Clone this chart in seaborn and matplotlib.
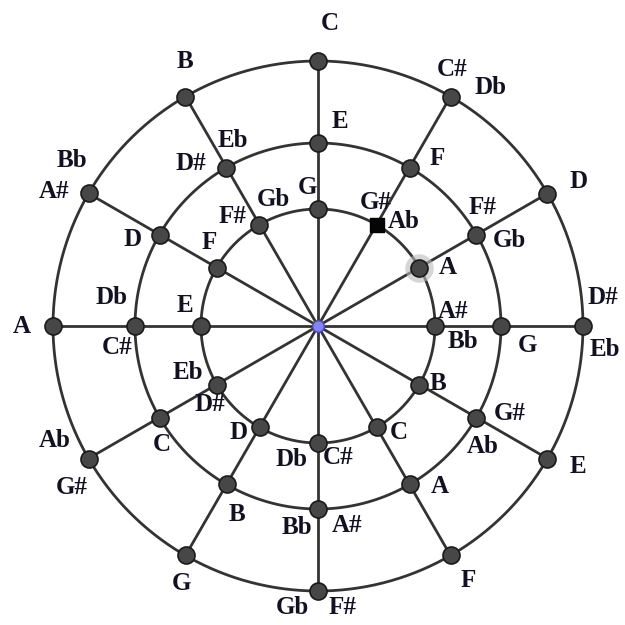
import numpy as np
import pandas as pd
import matplotlib
matplotlib.use("Agg")
import matplotlib.pyplot as plt
import seaborn as sns

# notes on each ring, clockwise from the top (12 positions, 30 degrees apart)
outer_notes = ["C", "C#/Db", "D", "D#/Eb", "E", "F", "F#/Gb", "G", "G#/Ab", "A", "A#/Bb", "B"]
middle_notes = ["E", "F", "F#/Gb", "G", "G#/Ab", "A", "A#/Bb", "B", "C", "C#/Db", "D", "D#/Eb"]
inner_notes = ["G", "G#/Ab", "A", "A#/Bb", "B", "C", "C#/Db", "D", "D#/Eb", "E", "F", "F#/Gb"]

# label offsets (pixels, y down) for each name at each position
outer_offsets = [[(12, -38)], [(2, -27), (40, -9)], [(31, -12)], [(20, -28), (22, 24)],
                 [(30, 8)], [(18, 25)], [(25, 17), (-26, 17)], [(-4, 28)],
                 [(-17, 29), (-34, -18)], [(-31, 0)], [(-34, -2), (-17, -33)], [(0, -35)]]
middle_offsets = [[(22, -21)], [(28, -9)], [(6, -27), (33, 6)], [(26, 19)],
                  [(33, -4), (6, 29)], [(30, 2)], [(29, 16), (-21, 19)], [(10, 30)],
                  [(2, 27)], [(-18, 21), (-23, -29)], [(-27, 5)], [(-36, -4), (6, -27)]]
inner_offsets = [[(-11, -21)], [(-1, -22), (27, -3)], [(28, 0)], [(18, -15), (28, 16)],
                 [(19, -1)], [(22, 5)], [(20, 14), (-26, 17)], [(-21, 5)],
                 [(-7, 20), (-29, -12)], [(-16, -20)], [(-7, -25)], [(-27, -8), (14, -25)]]

ring_radius = {"outer": 265, "middle": 183, "inner": 117}
cx, cy = 318, 326

rows = []
for ring, notes, offs in [("outer", outer_notes, outer_offsets),
                          ("middle", middle_notes, middle_offsets),
                          ("inner", inner_notes, inner_offsets)]:
    r = ring_radius[ring]
    for i, name in enumerate(notes):
        ang = np.deg2rad(90 - 30 * i)
        rows.append({"ring": ring, "pos": i, "name": name,
                     "x": cx + r * np.cos(ang), "y": cy - r * np.sin(ang),
                     "offs": offs[i]})
df = pd.DataFrame(rows)

sns.set_style("white")
fig = plt.figure(figsize=(6.25, 6.25), dpi=100)
ax = fig.add_axes([0, 0, 1, 1])

line_col = "#333333"
t = np.linspace(0, 2 * np.pi, 400)
for r in ring_radius.values():
    ax.plot(cx + r * np.cos(t), cy + r * np.sin(t), color=line_col, lw=2.0, zorder=1)
for i in range(12):
    ang = np.deg2rad(90 - 30 * i)
    R = ring_radius["outer"]
    ax.plot([cx, cx + R * np.cos(ang)], [cy, cy - R * np.sin(ang)],
            color=line_col, lw=2.0, zorder=1)

# grey halo behind inner A
halo = df[(df.ring == "inner") & (df.name == "A")]
ax.scatter(halo.x, halo.y, s=420, color="#bbbbbb", alpha=0.6, zorder=2, linewidths=0)

normal = df[~((df.ring == "inner") & (df.name == "G#/Ab"))]
sns.scatterplot(data=normal, x="x", y="y", s=150, color="#474747",
                edgecolor="#1a1a1a", linewidth=1.2, zorder=3, ax=ax, legend=False)
special = df[(df.ring == "inner") & (df.name == "G#/Ab")]
sns.scatterplot(data=special, x="x", y="y", s=95, color="#050505", marker="s",
                edgecolor="#000000", linewidth=1, zorder=3, ax=ax, legend=False)
ax.scatter([cx], [cy], s=70, color="#8484f2", edgecolor="#4a4ab0", linewidth=1, zorder=4)

for _, row in df.iterrows():
    for nm, (dx, dy) in zip(row["name"].split("/"), row["offs"]):
        ax.text(row.x + dx, row.y + dy, nm, ha="center", va="center",
                fontsize=18, fontweight="bold", family="Liberation Serif",
                color="#111122", zorder=5)

ax.set_xlim(0, 625)
ax.set_ylim(625, 0)
ax.set_aspect("equal")
ax.axis("off")
fig.savefig("out.png", dpi=100, facecolor="white")
